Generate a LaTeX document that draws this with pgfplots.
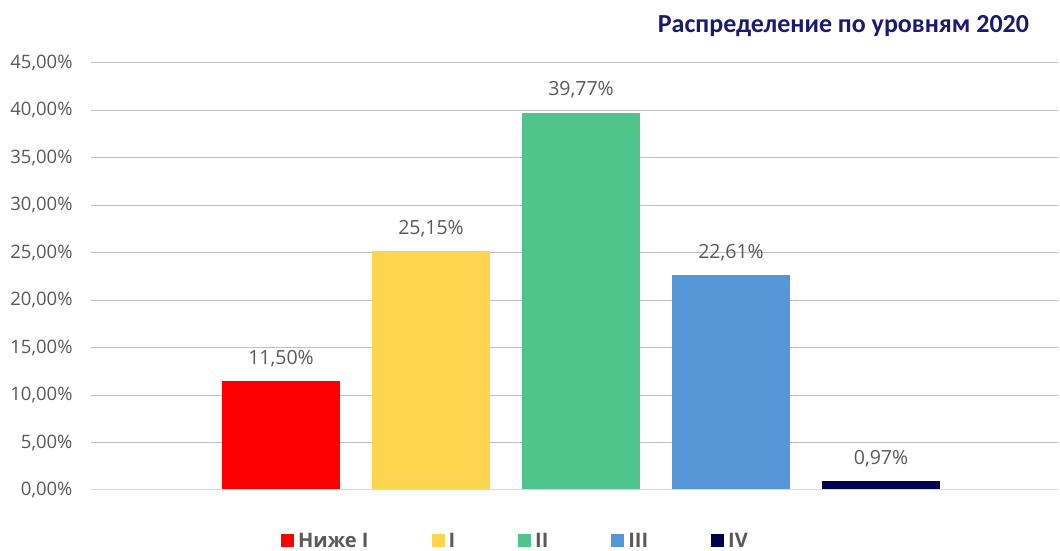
\documentclass[border=0pt]{standalone}
\usepackage{pgfplots}
\pgfplotsset{compat=1.18}
\usepackage{fontspec}
\setmainfont{Open Sans}
\newfontfamily\titlefont{Carlito}
\definecolor{cRed}{HTML}{FF0000}
\definecolor{cYel}{HTML}{FFD54F}
\definecolor{cGrn}{HTML}{4FC48B}
\definecolor{cBlu}{HTML}{5596D6}
\definecolor{cNav}{HTML}{000050}
\definecolor{txt}{HTML}{595959}
\definecolor{grid}{HTML}{D9D9D9}
\definecolor{ttl}{HTML}{1A1A6E}
\pgfplotsset{sqlegend/.style={legend image code/.code={\fill[##1] (0pt,-6.5pt) rectangle (13pt,6.5pt);}}}
\begin{document}
\begin{tikzpicture}
\useasboundingbox (0,0) rectangle (1060pt,551pt);
\begin{axis}[
  at={(91pt,61pt)}, anchor=south west,
  scale only axis, width=967pt, height=427pt,
  ybar, bar width=118pt,
  xmin=-1.267, xmax=5.18,
  ymin=0, ymax=45,
  ytick={0,5,...,45},
  xtick=\empty,
  axis line style={draw=none},
  axis x line*=bottom,
  ymajorgrids, grid style={grid, line width=1pt},
  major tick length=0pt,
  /pgf/number format/assume math mode=true,
  yticklabel={\pgfmathprintnumber[fixed,fixed zerofill,precision=2,use comma]{\tick}\%},
  yticklabel style={font=\fontsize{18.5}{20}\selectfont, text=txt, xshift=-15pt},
  nodes near coords={\pgfmathprintnumber[fixed,fixed zerofill,precision=2,use comma]{\pgfplotspointmeta}\%},
  nodes near coords style={font=\fontsize{19.5}{21}\selectfont, text=txt, anchor=south, inner sep=0pt, yshift=14pt},
  legend columns=5,
  legend style={draw=none, at={(0.44,-0.119)}, anchor=center,
    font=\fontsize{20}{22}\selectfont\bfseries, text=txt,
    /tikz/every even column/.append style={column sep=59pt},
    nodes={inner sep=4pt}},
  clip=false,
]
\addplot[fill=cRed, draw=none, bar shift=0pt, sqlegend] coordinates {(0,11.50)};
\addplot[fill=cYel, draw=none, bar shift=0pt, sqlegend] coordinates {(1,25.15)};
\addplot[fill=cGrn, draw=none, bar shift=0pt, sqlegend] coordinates {(2,39.77)};
\addplot[fill=cBlu, draw=none, bar shift=0pt, sqlegend] coordinates {(3,22.61)};
\addplot[fill=cNav, draw=none, bar shift=0pt, sqlegend] coordinates {(4,0.97)};
\legend{Ниже I, I, II, III, IV}
\draw[grid, line width=1pt] (axis cs:-1.267,0) -- (axis cs:5.18,0);
\end{axis}
\node[font=\titlefont\fontsize{26}{28}\selectfont\bfseries, text=ttl] at (843.5pt,525pt) {Распределение по уровням 2020};
\end{tikzpicture}
\end{document}
